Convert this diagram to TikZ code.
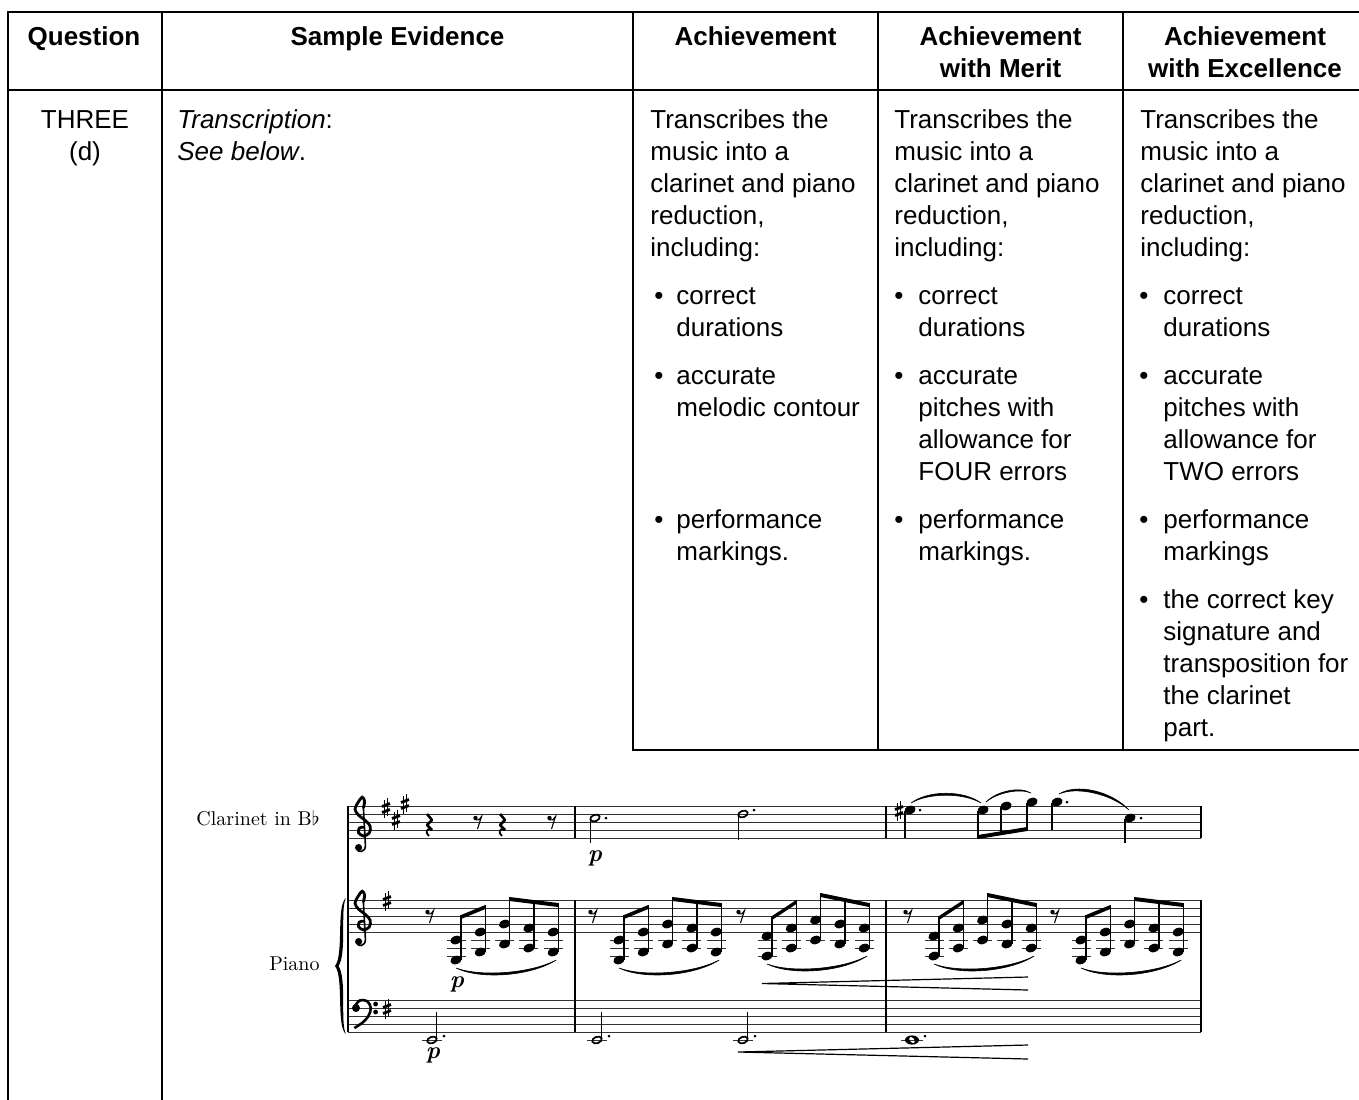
\documentclass[tikz,border=0pt]{standalone}
\usepackage{amsmath}
\usepackage{xcolor}
\usepackage{fontspec}
\setsansfont{Liberation Sans}
\usepackage{tikz}
\usetikzlibrary{calc}
\usetikzlibrary{arrows}
\tikzset{>=latex}

\tikzset{
	rule/.style={line width=1pt, black, line cap=rect},
	cell/.style={font=\sffamily\fontsize{13}{16}\selectfont, inner sep=0pt},
	hdr/.style={font=\sffamily\bfseries\fontsize{13}{16}\selectfont, inner sep=0pt, anchor=base},
	stave/.style={line width=0.5pt, black!80},
	barl/.style={line width=0.9pt},
	notestem/.style={line width=0.6pt},
	dyn/.style={font=\fontsize{12}{12}\selectfont\bfseries\itshape, inner sep=0pt},
	hairpin/.style={line width=0.6pt},
	instr/.style={font=\fontsize{10}{12}\selectfont, inner sep=0pt, anchor=base east},
}

% text helpers
\newcommand\cellpara[4]{\foreach \txt [count=\i] in {#4} \node[cell, anchor=base west] (#1\i) at (#2,#3+32*\i-32) {\txt};}
\newcommand\bulletpara[5]{\node[cell, anchor=base] (#1) at (#2,#4) {\textbullet}; \cellpara{#1}{#3}{#4}{#5}}

% music helpers
\newcommand\nhd[2]{\fill[rotate around={20:(#1,#2)}] (#1,#2) ellipse (5.8 and 4.1);}
\newcommand\hnote[2]{\draw[line width=0.85pt, rotate around={20:(#1,#2)}] (#1,#2) ellipse (4.9 and 3.2);}
\newcommand\wnote[2]{\fill[even odd rule] (#1,#2) ellipse (7 and 4.6) [rotate around={-50:(#1,#2)}] (#1,#2) ellipse (3.6 and 2.3);}
\newcommand\ndot{}
\renewcommand\ndot[2]{\fill (#1,#2) circle (1.5);}
\newcommand\shrp[2]{%
	\draw[line width=0.45pt] (#1-1.8,#2-8) -- (#1-1.8,#2+10) (#1+1.8,#2-10) -- (#1+1.8,#2+8);
	\draw[line width=1.4pt] (#1-4,#2-1.5) -- (#1+4,#2-4.5) (#1-4,#2+4.5) -- (#1+4,#2+1.5);}
\newcommand\erst[2]{%
	\fill (#1-2.5,#2-4) circle (2.2);
	\draw[line width=0.55pt] (#1-2.5,#2-2.2) .. controls (#1+0.5,#2-1.5) .. (#1+3.5,#2-5.5) -- (#1-0.5,#2+7);}
\newcommand\qrst[2]{%
	\draw[line width=1.3pt, line join=round] (#1-2,#2-11) -- (#1+3,#2-5) -- (#1-2,#2) -- (#1+3,#2+5);
	\draw[line width=0.9pt] (#1+3,#2+5) .. controls (#1-3,#2+2) and (#1-4,#2+8) .. (#1,#2+11);}
\newcommand\slr[3]{\filldraw[line width=0.3pt] (#1) .. controls ($(#1)!0.25!(#2)+(0,#3)$) and ($(#1)!0.75!(#2)+(0,#3)$) .. (#2)
	.. controls ($(#1)!0.75!(#2)+(0,0.8*#3)$) and ($(#1)!0.25!(#2)+(0,0.8*#3)$) .. (#1) -- cycle;}
\newcommand\gclf[2]{\begin{scope}[shift={(#1,#2)}, x=4pt, y=4pt]
	\draw[line width=1.4pt, line cap=round] plot[smooth, tension=0.55] coordinates {(0.3,0.35) (-0.2,0.25) (-0.3,-0.35) (0.35,-0.75) (1.05,-0.35) (1.15,0.45) (0.6,1.15) (-0.3,1.85) (-0.75,2.6) (-0.4,3.4) (0.15,4.1) (0.45,3.6) (0.3,2.8)};
	\draw[line width=0.8pt] (0.3,2.8) -- (0.55,-1.9) .. controls (0.6,-2.8) and (-0.45,-2.95) .. (-0.5,-2.3);
	\fill (-0.3,-2.2) circle (0.45);
	\end{scope}}
\newcommand\fclf[2]{\begin{scope}[shift={(#1,#2)}, x=4pt, y=4pt]
	\fill (0,0) circle (0.5);
	\draw[line width=1.3pt] plot[smooth, tension=0.6] coordinates {(-0.1,0.3) (0.5,0.95) (1.4,0.85) (1.85,0) (1.55,-1.0) (0.85,-1.8) (-0.2,-2.5)};
	\fill (2.45,0.5) circle (0.3) (2.45,-0.5) circle (0.3);
	\end{scope}}
\newcommand\chordgrp[2]{%
	\erst{#1}{916}
	\foreach \hi/\lo/\tp [count=\k] in #2 {
		\pgfmathsetmacro\hx{#1+26+24.3*(\k-1)}
		\pgfmathsetmacro\yh{932-4*(\hi)}
		\pgfmathsetmacro\yl{932-4*(\lo)}
		\foreach \s in {-2,-4,-6,-8}{
			\pgfmathtruncatemacro\ok{\s>=\lo}
			\pgfmathsetmacro\ly{932-4*(\s)}
			\ifnum\ok=1 \draw[stave] (\hx-9.5,\ly) -- (\hx+9.5,\ly);\fi
		}
		\nhd{\hx}{\yh}
		\nhd{\hx}{\yl}
		\draw[notestem] (\hx+5,\yl) -- (\hx+5,\tp);
		\coordinate (st\k) at (\hx+5,\tp);
		\coordinate (lo\k) at (\hx,\yl);
	}
	\fill (st1) -- (st2) -- ($(st2)+(0,4)$) -- ($(st1)+(0,4)$) -- cycle;
	\fill (st3) -- (st5) -- ($(st5)+(0,4)$) -- ($(st3)+(0,4)$) -- cycle;
	\coordinate (sla) at ($(lo1)+(0,8)$);
	\coordinate (slb) at ($(lo5)+(3,8)$);
	\slr{sla}{slb}{14}}
\newcommand\patA{-2/-7/915, 0/-5/905, 2/-3/897, 1/-4/900, 0/-5/903}
\newcommand\patB{-1/-6/916, 1/-4/900, 3/-2/893, 2/-3/898, 1/-4/903}

\begin{document}
\begin{tikzpicture}[x=0.5pt, y=-0.5pt]
	\fill[white] (0,0) rectangle (1359,1099);
	\useasboundingbox (0,0) rectangle (1359,1099);

	%% Table
	\coordinate (tl) at (8,12);
	\coordinate (tr) at (1359,12);
	\coordinate (hl) at (8,90);
	\coordinate (hr) at (1359,90);
	\draw[rule] (tl) -- (tr);
	\draw[rule] (hl) -- (hr);
	\draw[rule] (tl) -- (8,1102);
	\draw[rule] (162,12) -- (162,1102);
	\draw[rule] (633,12) -- (633,750) -- (1359,750);
	\draw[rule] (878,12) -- (878,750);
	\draw[rule] (1123,12) -- (1123,750);

	%% Header
	\node[hdr] (hq) at (84,45) {Question};
	\node[hdr] (hs) at (397.5,45) {Sample Evidence};
	\node[hdr] (ha) at (755.5,45) {Achievement};
	\node[hdr] (hm1) at (1000.5,45) {Achievement};
	\node[hdr] (hm2) at (1000.5,77) {with Merit};
	\node[hdr] (he1) at (1245,45) {Achievement};
	\node[hdr] (he2) at (1245,77) {with Excellence};

	%% Question / evidence
	\node[cell, anchor=base] (q1) at (85,128) {THREE};
	\node[cell, anchor=base] (q2) at (85,160) {(d)};
	\node[cell, anchor=base west] (ev1) at (177,128) {\textit{Transcription}:};
	\node[cell, anchor=base west] (ev2) at (177,160) {\textit{See below}.};

	%% Achievement
	\cellpara{ach}{650}{128}{Transcribes the, music into a, clarinet and piano, {reduction,}, including:}
	\bulletpara{acha}{659}{676}{304}{correct, durations}
	\bulletpara{achb}{659}{676}{384}{accurate, melodic contour}
	\bulletpara{achc}{659}{676}{528}{performance, markings.}

	%% Merit
	\cellpara{mer}{894}{128}{Transcribes the, music into a, clarinet and piano, {reduction,}, including:}
	\bulletpara{mera}{899}{918}{304}{correct, durations}
	\bulletpara{merb}{899}{918}{384}{accurate, pitches with, allowance for, FOUR errors}
	\bulletpara{merc}{899}{918}{528}{performance, markings.}

	%% Excellence
	\cellpara{exc}{1140}{128}{Transcribes the, music into a, clarinet and piano, {reduction,}, including:}
	\bulletpara{exca}{1144}{1163}{304}{correct, durations}
	\bulletpara{excb}{1144}{1163}{384}{accurate, pitches with, allowance for, TWO errors}
	\bulletpara{excc}{1144}{1163}{528}{performance, markings}
	\bulletpara{excd}{1144}{1163}{608}{the correct key, signature and, transposition for, the clarinet, part.}

	%% Score: staves, bars, brace
	\foreach \sy in {806,900,1000}
		\foreach \i in {0,...,4}
			\draw[stave] (348,\sy+8*\i) -- (1201,\sy+8*\i);
	\foreach \bx in {575,886,1201} {
		\draw[barl] (\bx,806) -- (\bx,838);
		\draw[barl] (\bx,900) -- (\bx,1032);
	}
	\draw[barl] (348,806) -- (348,1032);
	\fill (346,898) .. controls (336,905) and (344,955) .. (335,966)
		.. controls (344,977) and (336,1027) .. (346,1034)
		.. controls (340,1024) and (347,978) .. (338.5,966)
		.. controls (347,954) and (340,908) .. (346,898) -- cycle;

	\node[instr] (clab) at (320,825) {Clarinet in B$\flat$};
	\node[instr] (plab) at (320,970) {Piano};

	%% Clefs and keys
	\gclf{361}{830}
	\gclf{361}{924}
	\fclf{356}{1008}
	\shrp{386}{808} \shrp{396}{820} \shrp{405}{804}
	\shrp{387}{901}
	\shrp{387}{1009}

	%% Clarinet
	\qrst{429}{825} \erst{478}{822} \qrst{502}{825} \erst{552}{822}
	\hnote{595}{818} \draw[notestem] (590.2,819) -- (590.2,843); \ndot{606}{818}
	\hnote{743}{814} \draw[notestem] (738.2,815) -- (738.2,840); \ndot{754}{810}
	\node[dyn] (dyn1) at (595,858) {p};
	\shrp{899}{811}
	\nhd{910}{810} \draw[notestem] (905,811) -- (905,838); \ndot{920}{810}
	\nhd{983}{810} \draw[notestem] (978,811) -- (978,839);
	\nhd{1006}{806} \draw[notestem] (1001,807) -- (1001,835);
	\nhd{1032}{802} \draw[notestem] (1027,803) -- (1027,831);
	\fill (978,835) -- (1027,827) -- (1027,831) -- (978,839) -- cycle;
	\nhd{1057}{802} \draw[notestem] (1052,803) -- (1052,830); \ndot{1067}{802}
	\nhd{1130}{818} \draw[notestem] (1125,819) -- (1125,843); \ndot{1141}{818}
	\coordinate (c1a) at (911,803);
	\coordinate (c1b) at (981,803);
	\slr{c1a}{c1b}{-13}
	\coordinate (c2a) at (986,802);
	\coordinate (c2b) at (1031,793);
	\slr{c2a}{c2b}{-9}
	\coordinate (c3a) at (1059,794);
	\coordinate (c3b) at (1129,810);
	\slr{c3a}{c3b}{-15}

	%% Piano right hand
	\chordgrp{430}{\patA}
	\chordgrp{593}{\patA}
	\chordgrp{741}{\patB}
	\chordgrp{908}{\patB}
	\chordgrp{1055}{\patA}
	\node[dyn] (dyn2) at (457,984) {p};
	\draw[hairpin] (1028,977) -- (762,983.5) -- (1028,990);

	%% Piano left hand
	\foreach \nx in {432,597,743} {
		\draw[stave] (\nx-10,1040) -- (\nx+10,1040);
		\hnote{\nx}{1040}
		\draw[notestem] (\nx+4.8,1039) -- (\nx+4.8,1012);
		\ndot{\nx+12}{1036}
	}
	\draw[stave] (901,1040) -- (923,1040);
	\wnote{912}{1040} \ndot{925}{1036}
	\node[dyn] (dyn3) at (433,1055) {p};
	\draw[hairpin] (1028,1045) -- (738,1052) -- (1028,1059);
\end{tikzpicture}
\end{document}
